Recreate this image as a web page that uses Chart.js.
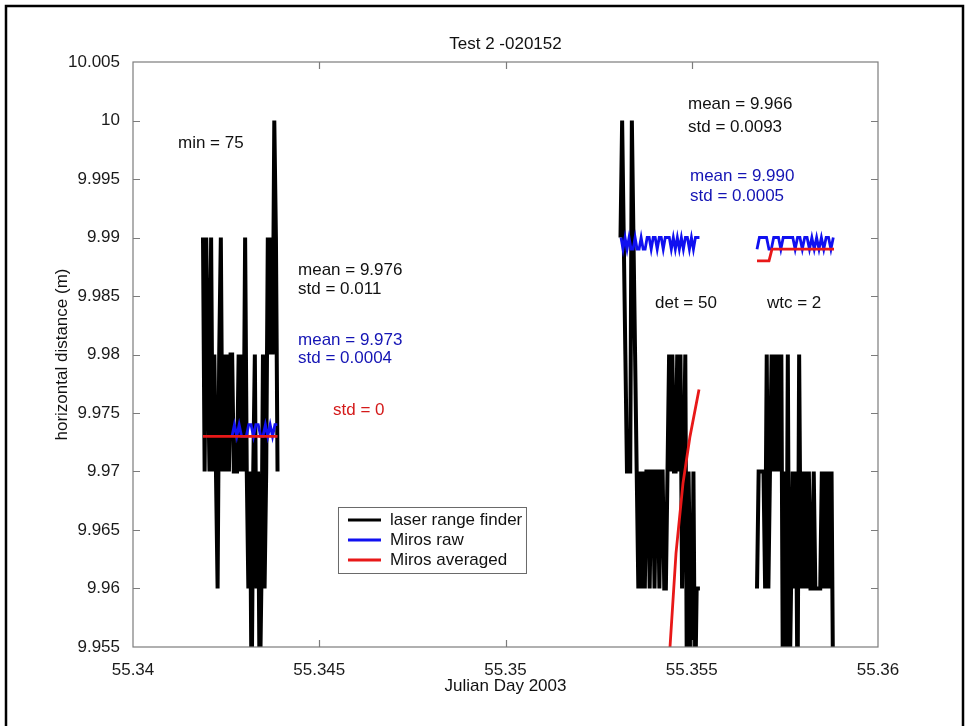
<!DOCTYPE html>
<html>
<head>
<meta charset="utf-8">
<title>Test 2 -020152</title>
<script src="https://cdn.jsdelivr.net/npm/chart.js@4"></script>
<style>
  html, body { margin: 0; padding: 0; background: #fff; }
  #wrap { position: relative; width: 969px; height: 726px; }
</style>
</head>
<body>
<div id="wrap"><canvas id="chart" width="969" height="726"></canvas></div>
<script>
// laser range finder, three bursts (Julian day / metres)
const laserDay1 = [55.341879, 55.341923, 55.341966, 55.342010, 55.342053, 55.342097, 55.342140, 55.342184, 55.342227, 55.342271,
  55.342314, 55.342358, 55.342401, 55.342445, 55.342488, 55.342532, 55.342575, 55.342619, 55.342662, 55.342706,
  55.342749, 55.342793, 55.342836, 55.342880, 55.342923, 55.342967, 55.343010, 55.343054, 55.343097, 55.343141,
  55.343184, 55.343228, 55.343271, 55.343315, 55.343358, 55.343402, 55.343445, 55.343489, 55.343532, 55.343576,
  55.343619, 55.343663, 55.343706, 55.343750, 55.343793, 55.343837, 55.343880];
const laserDist1 = [9.99, 9.97, 9.99, 9.98, 9.97, 9.99, 9.97, 9.98, 9.97, 9.96,
  9.98, 9.99, 9.97, 9.98, 9.97, 9.98, 9.97, 9.98, 9.98, 9.97,
  9.97, 9.97, 9.98, 9.97, 9.98, 9.97, 9.99, 9.97, 9.96, 9.97,
  9.95, 9.97, 9.98, 9.96, 9.97, 9.95, 9.96, 9.98, 9.96, 9.97,
  9.99, 9.98, 9.99, 9.98, 10.00, 9.99, 9.97];

const laserDay2 = [55.353087, 55.353131, 55.353174, 55.353218, 55.353261, 55.353305, 55.353348, 55.353392, 55.353435, 55.353479,
  55.353522, 55.353566, 55.353609, 55.353653, 55.353696, 55.353740, 55.353783, 55.353827, 55.353870, 55.353914,
  55.353957, 55.354001, 55.354044, 55.354088, 55.354131, 55.354175, 55.354218, 55.354262, 55.354305, 55.354349,
  55.354392, 55.354436, 55.354479, 55.354523, 55.354566, 55.354610, 55.354653, 55.354697, 55.354740, 55.354784,
  55.354827, 55.354871, 55.354914, 55.354958, 55.355001, 55.355045, 55.355088, 55.355132, 55.355175, 55.355219];
const laserDist2 = [9.99, 10.00, 9.99, 9.98, 9.97, 9.97, 9.97, 10.00, 9.99, 9.98,
  9.97, 9.96, 9.97, 9.96, 9.97, 9.96, 9.97, 9.97, 9.96, 9.97,
  9.97, 9.96, 9.97, 9.97, 9.96, 9.97, 9.97, 9.96, 9.96, 9.97,
  9.98, 9.97, 9.98, 9.97, 9.97, 9.98, 9.97, 9.98, 9.96, 9.97,
  9.98, 9.95, 9.97, 9.96, 9.95, 9.97, 9.95, 9.96, 9.96, 9.96];

const laserDay3 = [55.356752, 55.356796, 55.356839, 55.356883, 55.356926, 55.356970, 55.357013, 55.357057, 55.357100, 55.357144,
  55.357187, 55.357231, 55.357274, 55.357318, 55.357361, 55.357405, 55.357448, 55.357492, 55.357535, 55.357579,
  55.357622, 55.357666, 55.357709, 55.357753, 55.357796, 55.357840, 55.357883, 55.357927, 55.357970, 55.358014,
  55.358057, 55.358101, 55.358144, 55.358188, 55.358231, 55.358275, 55.358318, 55.358362, 55.358405, 55.358449,
  55.358492, 55.358536, 55.358579, 55.358623, 55.358666, 55.358710, 55.358753, 55.358797, 55.358840];
const laserDist3 = [9.96, 9.97, 9.97, 9.97, 9.97, 9.96, 9.98, 9.96, 9.97, 9.98,
  9.97, 9.98, 9.97, 9.98, 9.97, 9.98, 9.95, 9.97, 9.95, 9.98,
  9.95, 9.96, 9.97, 9.96, 9.97, 9.95, 9.98, 9.96, 9.97, 9.96,
  9.97, 9.96, 9.97, 9.96, 9.96, 9.97, 9.96, 9.96, 9.96, 9.96,
  9.97, 9.96, 9.97, 9.96, 9.97, 9.96, 9.97, 9.95, 9.95];

// Miros raw
const rawDay1 = [55.342658, 55.342722, 55.342786, 55.342850, 55.342914, 55.342978, 55.343042, 55.343106, 55.343170, 55.343234,
  55.343298, 55.343362, 55.343426, 55.343490, 55.343554, 55.343618, 55.343682, 55.343746, 55.343810, 55.343874];
const rawDist1 = [9.973, 9.974, 9.973, 9.974, 9.973, 9.973, 9.973, 9.974, 9.974, 9.973,
  9.974, 9.974, 9.973, 9.973, 9.974, 9.973, 9.974, 9.973, 9.974, 9.974];

const rawDay2 = [55.353101, 55.353155, 55.353209, 55.353263, 55.353317, 55.353371, 55.353425, 55.353479, 55.353533, 55.353587,
  55.353641, 55.353695, 55.353749, 55.353803, 55.353857, 55.353911, 55.353965, 55.354019, 55.354073, 55.354127,
  55.354181, 55.354235, 55.354289, 55.354343, 55.354397, 55.354451, 55.354505, 55.354559, 55.354613, 55.354667,
  55.354721, 55.354775, 55.354829, 55.354883, 55.354937, 55.354991, 55.355045, 55.355099, 55.355153, 55.355207];
const rawDist2 = [9.990, 9.989, 9.990, 9.989, 9.990, 9.989, 9.989, 9.990, 9.989, 9.989,
  9.990, 9.989, 9.989, 9.990, 9.990, 9.989, 9.990, 9.990, 9.989, 9.990,
  9.990, 9.989, 9.990, 9.990, 9.990, 9.989, 9.990, 9.989, 9.990, 9.989,
  9.990, 9.989, 9.990, 9.990, 9.989, 9.990, 9.989, 9.990, 9.990, 9.990];

const rawDay3 = [55.356752, 55.356816, 55.356880, 55.356944, 55.357008, 55.357072, 55.357136, 55.357200, 55.357264, 55.357328,
  55.357392, 55.357456, 55.357520, 55.357584, 55.357648, 55.357712, 55.357776, 55.357840, 55.357904, 55.357968,
  55.358032, 55.358096, 55.358160, 55.358224, 55.358288, 55.358352, 55.358416, 55.358480, 55.358544, 55.358608,
  55.358672, 55.358736, 55.358800];
const rawDist3 = [9.989, 9.990, 9.990, 9.990, 9.990, 9.989, 9.989, 9.990, 9.990, 9.990,
  9.989, 9.990, 9.990, 9.990, 9.990, 9.990, 9.989, 9.990, 9.990, 9.989,
  9.990, 9.990, 9.989, 9.990, 9.989, 9.990, 9.989, 9.990, 9.989, 9.990,
  9.990, 9.989, 9.990];

// Miros averaged
const avgDay1 = [55.341879, 55.343880];
const avgDist1 = [9.973, 9.973];
const avgDay2 = [55.354376, 55.354577, 55.354765, 55.354953, 55.355195];
const avgDist2 = [9.953, 9.963, 9.969, 9.973, 9.977];
const avgDay3 = [55.356752, 55.357074, 55.357154, 55.358819];
const avgDist3 = [9.988, 9.988, 9.989, 9.989];

const xTickValues = [55.34, 55.345, 55.35, 55.355, 55.36];
const yTickValues = [9.955, 9.96, 9.965, 9.97, 9.975, 9.98, 9.985, 9.99, 9.995, 10, 10.005];

const seriesNames = ['laser range finder', 'Miros raw', 'Miros averaged'];

const notes = [
  { text: 'min = 75', day: 55.341208, dist: 9.998077, color: '#111' },
  { text: 'mean = 9.976', day: 55.344430, dist: 9.987222, color: '#111' },
  { text: 'std = 0.011', day: 55.344430, dist: 9.985598, color: '#111' },
  { text: 'mean = 9.973', day: 55.344430, dist: 9.981239, color: '#1414b4' },
  { text: 'std = 0.0004', day: 55.344430, dist: 9.979701, color: '#1414b4' },
  { text: 'std = 0', day: 55.345369, dist: 9.975256, color: '#d41a1a' },
  { text: 'mean = 9.966', day: 55.354899, dist: 10.00141, color: '#111' },
  { text: 'std = 0.0093', day: 55.354899, dist: 9.999444, color: '#111' },
  { text: 'mean = 9.990', day: 55.354953, dist: 9.995256, color: '#1414b4' },
  { text: 'std = 0.0005', day: 55.354953, dist: 9.993547, color: '#1414b4' },
  { text: 'det = 50', day: 55.354013, dist: 9.984402, color: '#111' },
  { text: 'wtc = 2', day: 55.357020, dist: 9.984402, color: '#111' }
];

const FONT = '"Liberation Sans", Arial, Helvetica, sans-serif';
const BLACK = '#000000';
const BLUE = '#1010f0';
const RED = '#e81818';

// join bursts into one series, with a null point so the line breaks between them
function joinBursts(days, dists) {
  const out = [];
  days.forEach((d, k) => {
    if (k > 0) out.push({ x: (days[k - 1][days[k - 1].length - 1] + d[0]) / 2, y: null });
    d.forEach((x, i) => out.push({ x: x, y: dists[k][i] }));
  });
  return out;
}

const lineStyle = (color, width, order) => ({
  borderColor: color,
  backgroundColor: color,
  borderWidth: width,
  order: order,
  pointRadius: 0,
  pointHoverRadius: 0,
  tension: 0,
  fill: false,
  spanGaps: false,
  clip: 0
});

// higher order is painted first, so the Miros lines sit on top of the laser trace
const datasets = [
  Object.assign({ label: seriesNames[0], data: joinBursts([laserDay1, laserDay2, laserDay3], [laserDist1, laserDist2, laserDist3]) }, lineStyle(BLACK, 4, 3)),
  Object.assign({ label: seriesNames[1], data: joinBursts([rawDay1, rawDay2, rawDay3], [rawDist1, rawDist2, rawDist3]) }, lineStyle(BLUE, 2.8, 2)),
  Object.assign({ label: seriesNames[2], data: joinBursts([avgDay1, avgDay2, avgDay3], [avgDist1, avgDist2, avgDist3]) }, lineStyle(RED, 2.8, 1))
];

const matlabLook = {
  id: 'matlabLook',
  beforeDraw(chart) {
    const ctx = chart.ctx;
    ctx.save();
    ctx.fillStyle = '#fff';
    ctx.fillRect(0, 0, chart.width, chart.height);
    ctx.strokeStyle = '#000';
    ctx.lineWidth = 2.5;
    ctx.strokeRect(6, 6, 957, 760);
    ctx.restore();
  },
  afterDatasetsDraw(chart) {
    const ctx = chart.ctx;
    const a = chart.chartArea;
    const xs = chart.scales.x, ys = chart.scales.y;
    ctx.save();

    // axes box and inward ticks on all four sides
    ctx.strokeStyle = '#7c7c7c';
    ctx.lineWidth = 1.2;
    ctx.strokeRect(a.left, a.top, a.right - a.left, a.bottom - a.top);
    ctx.beginPath();
    xTickValues.slice(1, -1).forEach(v => {
      const px = Math.round(xs.getPixelForValue(v)) + 0.5;
      ctx.moveTo(px, a.bottom); ctx.lineTo(px, a.bottom - 7);
      ctx.moveTo(px, a.top); ctx.lineTo(px, a.top + 7);
    });
    yTickValues.slice(1, -1).forEach(v => {
      const py = Math.round(ys.getPixelForValue(v)) + 0.5;
      ctx.moveTo(a.left, py); ctx.lineTo(a.left + 7, py);
      ctx.moveTo(a.right, py); ctx.lineTo(a.right - 7, py);
    });
    ctx.stroke();

    // text annotations
    ctx.font = '17px ' + FONT;
    ctx.textAlign = 'left';
    ctx.textBaseline = 'middle';
    notes.forEach(n => {
      ctx.fillStyle = n.color;
      ctx.fillText(n.text, xs.getPixelForValue(n.day), ys.getPixelForValue(n.dist));
    });

    // legend box
    const lx = xs.getPixelForValue(55.345503);
    const ly = ys.getPixelForValue(9.966966);
    ctx.fillStyle = '#fff';
    ctx.fillRect(lx, ly, 188, 66);
    ctx.strokeStyle = '#6a6a6a';
    ctx.lineWidth = 1;
    ctx.strokeRect(lx + 0.5, ly + 0.5, 188, 66);
    chart.data.datasets.forEach((ds, i) => {
      const ry = ly + 13 + i * 20;
      ctx.strokeStyle = ds.borderColor;
      ctx.lineWidth = 3;
      ctx.beginPath();
      ctx.moveTo(lx + 10, ry); ctx.lineTo(lx + 43, ry);
      ctx.stroke();
      ctx.fillStyle = '#111';
      ctx.fillText(ds.label, lx + 52, ry);
    });

    // title and axis labels
    const cx = (a.left + a.right) / 2;
    ctx.fillStyle = '#111';
    ctx.textAlign = 'center';
    ctx.fillText('Test 2 -020152', cx, 44);
    ctx.fillText('Julian Day 2003', cx, 686);
    ctx.translate(62, (a.top + a.bottom) / 2);
    ctx.rotate(-Math.PI / 2);
    ctx.fillText('horizontal distance (m)', 0, 0);
    ctx.restore();
  }
};

const fmt = v => String(+Number(v).toFixed(3));

new Chart(document.getElementById('chart'), {
  type: 'line',
  data: { datasets: datasets },
  options: {
    responsive: false,
    animation: false,
    events: [],
    layout: { padding: { top: 62, right: 91, bottom: 0, left: 0 } },
    plugins: {
      legend: { display: false },
      title: { display: false },
      tooltip: { enabled: false }
    },
    scales: {
      x: {
        type: 'linear',
        min: 55.34,
        max: 55.36,
        afterFit: s => { s.height = 79; },
        afterBuildTicks: s => { s.ticks = xTickValues.map(v => ({ value: v })); },
        grid: { display: false },
        border: { display: false },
        ticks: { autoSkip: false, maxRotation: 0, padding: 5, color: '#1a1a1a', font: { family: FONT, size: 17 }, callback: fmt }
      },
      y: {
        type: 'linear',
        min: 9.955,
        max: 10.005,
        afterFit: s => { s.width = 133; },
        afterBuildTicks: s => { s.ticks = yTickValues.map(v => ({ value: v })); },
        grid: { display: false },
        border: { display: false },
        ticks: { autoSkip: false, padding: 5, color: '#1a1a1a', font: { family: FONT, size: 17 }, callback: fmt }
      }
    }
  },
  plugins: [matlabLook]
});
</script>
</body>
</html>
